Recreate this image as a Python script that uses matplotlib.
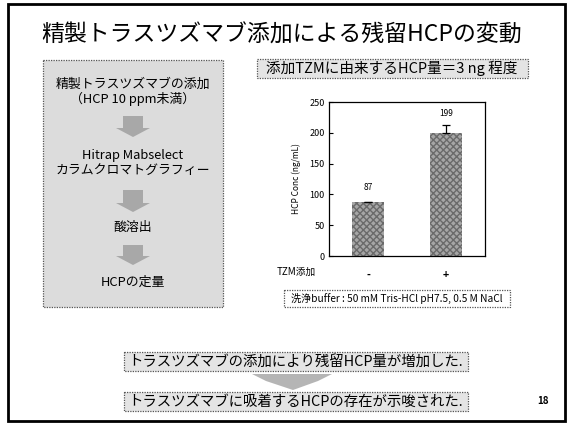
import numpy as np
import matplotlib
matplotlib.use('Agg')
import matplotlib.pyplot as plt
from matplotlib.patches import Rectangle, Polygon

plt.rcParams['font.family'] = ['Noto Sans CJK JP', 'DejaVu Sans']

# chart data
conditions = ['-', '+']
hcp_conc = [87, 199]
err_up = [1, 14]
value_labels = ['87', '199']
label_y = [112, 232]

# slide text
title = '精製トラスツズマブ添加による残留HCPの変動'
note_top = '添加TZMに由来するHCP量＝3 ng 程度'
flow_steps = ['精製トラスツズマブの添加\n（HCP 10 ppm未満）',
              'Hitrap Mabselect\nカラムクロマトグラフィー',
              '酸溶出',
              'HCPの定量']
buffer_note = '洗浄buffer : 50 mM Tris-HCl pH7.5, 0.5 M NaCl'
conclusion_1 = 'トラスツズマブの添加により残留HCP量が増加した.'
conclusion_2 = 'トラスツズマブに吸着するHCPの存在が示唆された.'
page_no = '18'

W, H = 568, 426
fig = plt.figure(figsize=(W / 100, H / 100), dpi=100)

# overlay in pixel coords
bg = fig.add_axes([0, 0, 1, 1])
bg.set_xlim(0, W)
bg.set_ylim(H, 0)
bg.axis('off')

bg.add_patch(Rectangle((8, 4), 557, 417, fill=False, lw=2, ec='black'))

bg.text(282, 35, title, fontsize=16.5, ha='center', va='center')


def dotted_box(x0, y0, x1, y1, fc='#e4e4e4'):
    bg.add_patch(Rectangle((x0, y0), x1 - x0, y1 - y0, fc=fc, ec='#555555',
                           lw=0.9, ls=(0, (1, 1))))


def down_arrow(cx, y0, y1, shaft_w, head_w, head_h):
    pts = [(cx - shaft_w / 2, y0), (cx + shaft_w / 2, y0),
           (cx + shaft_w / 2, y1 - head_h), (cx + head_w / 2, y1 - head_h),
           (cx, y1), (cx - head_w / 2, y1 - head_h),
           (cx - shaft_w / 2, y1 - head_h)]
    bg.add_patch(Polygon(pts, closed=True, fc='#a8a8a8', ec='none'))


# top note box
dotted_box(257, 59, 528, 78)
bg.text(392, 68.5, note_top, fontsize=10.5, ha='center', va='center')

# left flow box
dotted_box(43, 60, 223, 307, fc='#dcdcdc')
step_y = [92, 163, 227, 282]
for s, yy in zip(flow_steps, step_y):
    bg.text(133, yy, s, fontsize=9.3, ha='center', va='center', linespacing=1.1)
for a0, a1 in [(116, 137), (190, 212), (245, 265)]:
    down_arrow(133, a0, a1, 20, 34, 9)

# buffer box
dotted_box(284, 290, 510, 307, fc='white')
bg.text(397, 298.5, buffer_note, fontsize=7.3, ha='center', va='center')

# conclusions
dotted_box(124, 352, 468, 371)
bg.text(296, 361.5, conclusion_1, fontsize=10.4, ha='center', va='center')
bg.add_patch(Polygon([(252, 374), (332, 374), (318, 381), (293, 390), (266, 381)],
                     closed=True, fc='#b5b5b5', ec='none'))
dotted_box(124, 392, 468, 411)
bg.text(296, 401.5, conclusion_2, fontsize=10.4, ha='center', va='center')

bg.text(543, 401, page_no, fontsize=7, fontweight='bold', ha='center', va='center')

# bar chart
ax = fig.add_axes([329 / W, 1 - 256 / H, 156 / W, 154 / H])
x = np.arange(len(conditions))
ax.bar(x, hcp_conc, width=0.41, color='#a6a6a6', hatch='xxxxx', edgecolor='#6a6a6a',
       linewidth=0)
ax.errorbar(x, hcp_conc, yerr=[[0, 0], err_up], fmt='none', ecolor='black',
            elinewidth=0.9, capsize=3, capthick=0.9)
for xi, lab, ly in zip(x, value_labels, label_y):
    ax.text(xi, ly, lab, fontsize=6, ha='center', va='center')
ax.set_xlim(-0.5, 1.5)
ax.set_ylim(0, 250)
ax.set_yticks([0, 50, 100, 150, 200, 250])
ax.set_xticks(x)
ax.set_xticklabels(conditions, fontsize=7.5, fontweight='bold')
ax.tick_params(axis='x', length=0, pad=10)
ax.tick_params(axis='y', direction='in', length=3, labelsize=6.5, pad=3, width=0.8)
ax.set_ylabel('HCP Conc (ng/mL)', fontsize=6, labelpad=6)
for sp in ax.spines.values():
    sp.set_linewidth(0.9)

bg.text(277, 272, 'TZM添加', fontsize=7, ha='left', va='center')

fig.savefig('out.png', dpi=100)
